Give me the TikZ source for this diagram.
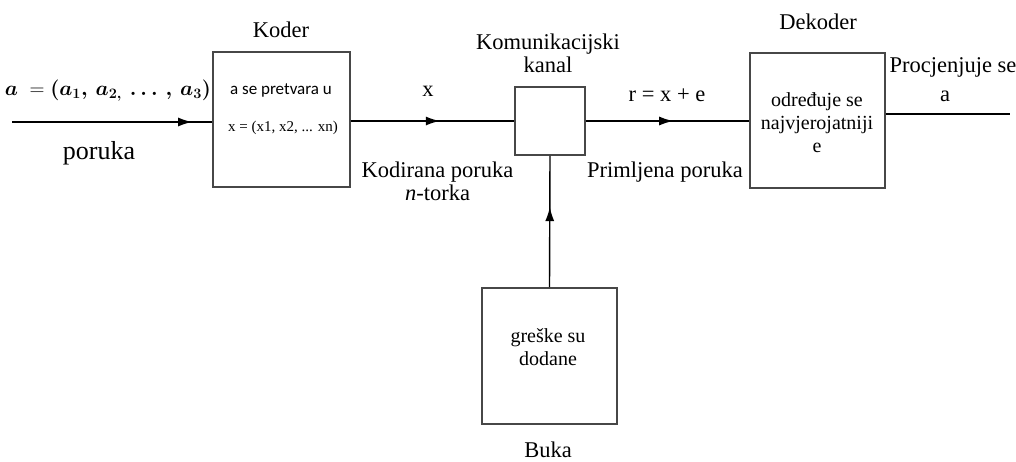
\documentclass[tikz,border=0pt]{standalone}
\usepackage{amsmath}
\usepackage{fontspec}
\setmainfont{Liberation Serif}
\newfontfamily\carlitofont{Carlito}
\usetikzlibrary{arrows.meta,decorations.markings}
\tikzset{
  blk/.style={draw=black!72, line width=1.7pt, inner sep=0pt},
  conn/.style={draw=black, line width=1.4pt},
  midarrow/.style={postaction={decorate,decoration={markings,
     mark=at position #1 with {\arrow{Latex[length=14pt,width=9pt]}}}}},
  lbl/.style={inner sep=0pt, font=\fontsize{22.5}{23}\selectfont, align=center},
  innertxt/.style={inner sep=0pt, font=\fontsize{20}{23}\selectfont, align=center},
}
\begin{document}
\begin{tikzpicture}[x=1pt,y=-1pt]
\useasboundingbox (0,0) rectangle (1016,461);
% boxes
\node[blk, minimum width=137pt, minimum height=135pt] (koder) at (281.5,119.5) {};
\node[blk, minimum width=70pt, minimum height=68pt] (kanal) at (550,121) {};
\node[blk, minimum width=135pt, minimum height=135pt] (dek) at (817.5,120.5) {};
\node[blk, minimum width=135pt, minimum height=136pt] (buka) at (549.5,356) {};
% free ends
\coordinate (in) at (12,122);
\coordinate (out) at (1010,114);
% connectors
\draw[conn, midarrow=0.9] (in) -- (in -| koder.west);
\draw[conn, midarrow=0.545] (koder.east |- kanal.west) -- (kanal.west);
\draw[conn, midarrow=0.535] (kanal.east) -- (kanal.east -| dek.west);
\draw[conn] (dek.east |- out) -- (out);
\draw[conn, midarrow=0.61] (buka.north) -- (kanal.south);
% labels
\node[lbl] (tkoder) at (281,30) {Koder};
\node[inner sep=0pt, font=\fontsize{20}{22}\selectfont] (teq) at (108,91)
  {$\boldsymbol{a}\;=\boldsymbol{(a_1,\,a_{2,}\,\ldots\,,\,a_3)}$};
\node[inner sep=0pt, font=\fontsize{26}{28}\selectfont] (tporuka) at (99,153) {poruka};
\node[inner sep=0pt, font=\carlitofont\fontsize{17}{19}\selectfont] (tk1) at (281,90) {a se pretvara u};
\node[inner sep=0pt, font=\fontsize{15}{17}\selectfont] (tk2) at (283,128) {x = (x1, x2, ... xn)};
\node[lbl] (tx) at (428,91) {x};
\node[lbl] (tkanal) at (548,53) {Komunikacijski\\kanal};
\node[lbl] (tkod) at (437.5,181) {Kodirana poruka\\\textit{n}-torka};
\node[lbl] (tr) at (667,95) {r = x + e};
\node[lbl] (tprim) at (665,172) {Primljena poruka};
\node[lbl] (tdek) at (818,22) {Dekoder};
\node[innertxt] (tdin) at (817,123) {određuje se\\najvjerojatniji\\e};
\node[lbl] (tproc) at (953,67) {Procjenjuje se};
\node[lbl] (ta) at (945,96) {a};
\node[innertxt] (tbin) at (548,347) {greške su\\dodane};
\node[lbl] (tbuka) at (548,450) {Buka};
\end{tikzpicture}
\end{document}
